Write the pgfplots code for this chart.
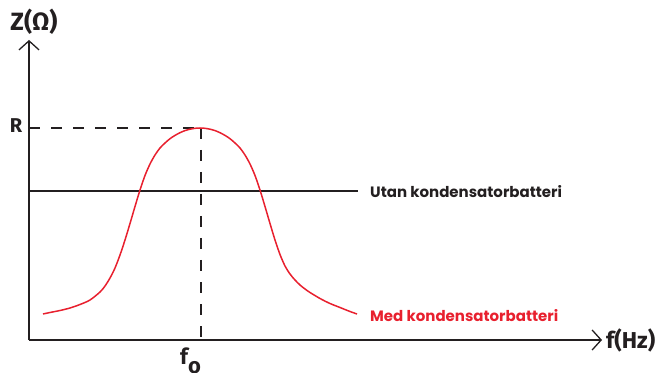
\documentclass[border=0pt]{standalone}
\usepackage{pgfplots}
\pgfplotsset{compat=1.18}
\usepackage{fontspec}
\setmainfont{Fira Sans}
\newfontfamily\geo{Poppins}[BoldFont={Poppins Bold}]
\usetikzlibrary{arrows.meta}
\definecolor{myred}{HTML}{E8202E}
\definecolor{mydark}{HTML}{231F20}
\begin{document}
\begin{tikzpicture}
\useasboundingbox (0,0) rectangle (660pt,372pt);
\begin{axis}[
  at={(29pt,32pt)}, anchor=south west,
  scale only axis, width=573pt, height=300pt,
  xmin=29, xmax=602, ymin=32, ymax=332,
  axis lines=left,
  axis line style={mydark, line width=1.6pt, -{Straight Barb[length=9pt,width=20pt,line width=1.3pt]}},
  xtick=\empty, ytick=\empty, clip=false,
]
\addplot[mydark, line width=1.6pt, dash pattern=on 11pt off 11pt] coordinates {(29,244) (201,244)};
\addplot[mydark, line width=1.6pt, dash pattern=on 11pt off 11pt] coordinates {(201,244) (201,32)};
\addplot[mydark, line width=1.5pt] coordinates {(29,181) (358,181)};
\addplot[myred, line width=1.5pt, smooth] coordinates {
(43,58) (50,59.5) (60,61.5) (70,64) (80,67.5) (90,72) (100,80) (105,86) (110,94) (115,104) (120,117) (125,132) (130,148.5) (135,165.5) (140,182) (145,196.5) (150,208) (155,217) (160,224) (165,229) (170,233.3) (175,236.6) (180,239.3) (185,241.4) (190,242.8) (195,243.7) (200,244)
(205,243.7) (210,242.8) (215,241.4) (220,239.3) (225,236.6) (230,233.3) (235,229) (240,224) (245,217) (250,208) (255,196.5) (260,182) (265,165.5) (270,148.5) (275,132) (280,117.5) (285,106) (290,98) (295,92) (300,87) (305,83) (310,79.5) (320,73.5) (330,68.5) (340,64.5) (350,60.5) (357,58)};
\node[mydark, font=\bfseries\fontsize{25}{25}\selectfont] at (axis cs:34,350) {Z(Ω)};
\node[mydark, font=\bfseries\fontsize{20}{20}\selectfont] at (axis cs:16,246) {R};
\node[mydark, font=\bfseries\fontsize{23}{23}\selectfont, anchor=west, inner sep=0pt] at (axis cs:606,32) {f(Hz)};
\node[mydark, font=\bfseries\fontsize{22}{22}\selectfont, anchor=base west, inner sep=0pt] at (axis cs:180,8) {f\raisebox{-0.45em}{o}};
\node[mydark, font=\geo\bfseries\fontsize{15}{15}\selectfont, anchor=west, inner sep=0pt] at (axis cs:370,180) {Utan kondensatorbatteri};
\node[myred, font=\geo\bfseries\fontsize{15}{15}\selectfont, anchor=west, inner sep=0pt] at (axis cs:370,56) {Med kondensatorbatteri};
\end{axis}
\end{tikzpicture}
\end{document}
